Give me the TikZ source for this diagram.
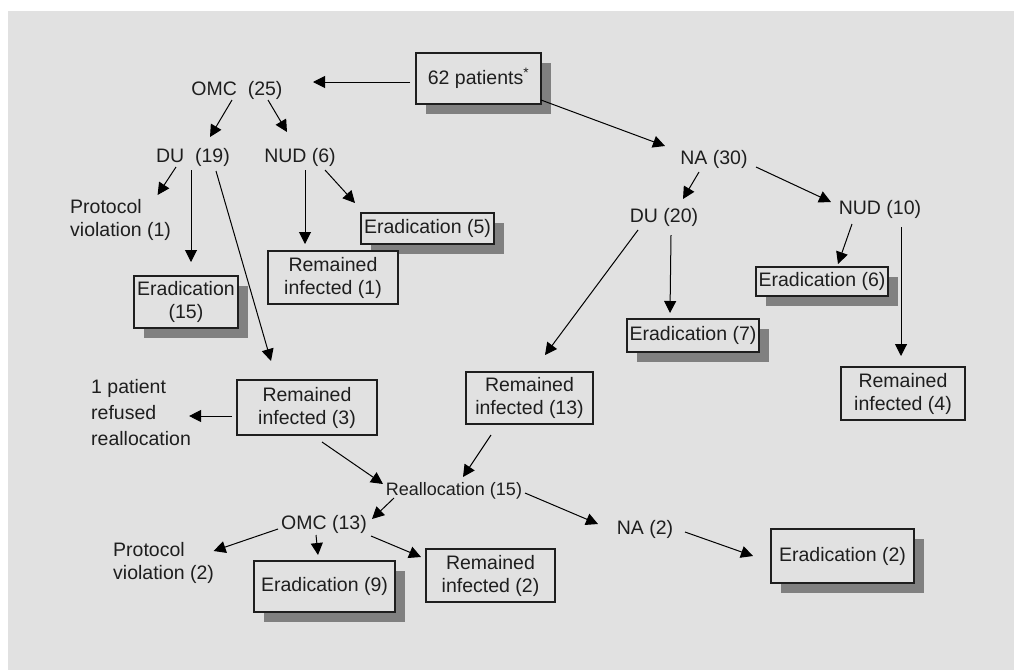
\documentclass[tikz,border=0pt]{standalone}
\usepackage{fontspec}
\setmainfont{Liberation Sans}
\usetikzlibrary{arrows.meta,shadows}
\definecolor{bg}{HTML}{E1E1E1}
\definecolor{shade}{HTML}{808080}
\definecolor{ink}{HTML}{1E1E1E}
\begin{document}
\begin{tikzpicture}[x=1pt,y=-1pt,
  font=\fontsize{19.5}{23}\selectfont, text=ink,
  box/.style={draw=ink, line width=1.1pt, fill=bg, inner sep=0pt, align=center},
  sbox/.style={box, drop shadow={shadow xshift=10pt, shadow yshift=-10pt, fill=shade, opacity=1}},
  lbl/.style={inner sep=0pt, align=center},
  lft/.style={inner sep=0pt, align=left, anchor=west},
  arr/.style={-{Triangle[length=12pt,width=12pt]}, line width=1pt, draw=black}]
\fill[white] (0,0) rectangle (1014,670);
\fill[bg] (8,11) rectangle (1014,670);
\useasboundingbox (0,0) rectangle (1014,670);

% nodes
\node[sbox, minimum width=125pt, minimum height=51pt] (p62) at (478.5,78.5) {62 patients\textsuperscript{*}};
\node[lbl] (omc25) at (237,90) {OMC\ \ (25)};
\node[lbl] (du19) at (193,157) {DU\ \ (19)};
\node[lbl] (nud6) at (300,157) {NUD (6)};
\node[lft] (pv1) at (70,219.5) {Protocol\\violation (1)};
\node[sbox, minimum width=104pt, minimum height=52pt] (e15) at (186,302) {Eradication\\(15)};
\node[sbox, minimum width=133pt, minimum height=31pt] (e5) at (427.5,228.5) {Eradication (5)};
\node[box, minimum width=130pt, minimum height=53pt] (r1) at (333,277.5) {Remained\\infected (1)};
\node[lbl] (na30) at (714,159) {NA (30)};
\node[lbl] (du20) at (664,217) {DU (20)};
\node[lbl] (nud10) at (880,209) {NUD (10)};
\node[sbox, minimum width=132pt, minimum height=29pt] (e6) at (822,281.5) {Eradication (6)};
\node[sbox, minimum width=132pt, minimum height=33pt] (e7) at (693,335.5) {Eradication (7)};
\node[box, minimum width=124pt, minimum height=53pt] (r4) at (903,393.5) {Remained\\infected (4)};
\node[box, minimum width=127pt, minimum height=52pt] (r13) at (529.5,398) {Remained\\infected (13)};
\node[box, minimum width=140pt, minimum height=55pt] (r3) at (307,407.5) {Remained\\infected (3)};
\node[lft, font=\fontsize{19.5}{26}\selectfont] (ref) at (91,413) {1 patient\\refused\\reallocation};
\node[lbl, font=\fontsize{18}{22}\selectfont] (realloc) at (454,491) {Reallocation (15)};
\node[lbl] (omc13) at (324,524) {OMC (13)};
\node[lft] (pv2) at (113,562.5) {Protocol\\violation (2)};
\node[sbox, minimum width=141pt, minimum height=51pt] (e9) at (324.5,586.5) {Eradication (9)};
\node[box, minimum width=129pt, minimum height=53pt] (r2) at (490.5,575.5) {Remained\\infected (2)};
\node[lbl] (na2) at (645,529) {NA (2)};
\node[sbox, minimum width=143pt, minimum height=54pt] (e2) at (842.5,556) {Eradication (2)};

% connectors
\draw[arr] ([shift={(-68.5,3.5)}]p62.center) -- ([shift={(76,-8)}]omc25.center);
\draw[arr] ([shift={(-5,10)}]omc25.center) -- ([shift={(17,-20)}]du19.center);
\draw[arr] ([shift={(31,10)}]omc25.center) -- ([shift={(-13,-25)}]nud6.center);
\draw[arr] ([shift={(-17,10)}]du19.center) -- ([shift={(37,-24.5)}]pv1.center);
\draw[arr] ([shift={(-2,13)}]du19.center) -- ([shift={(5,-40)}]e15.center);
\draw[arr] ([shift={(23,14)}]du19.center) -- ([shift={(-36,-46.5)}]r3.center);
\draw[arr] ([shift={(5,13)}]nud6.center) -- ([shift={(-28,-33.5)}]r1.center);
\draw[arr] ([shift={(25,13)}]nud6.center) -- ([shift={(-72.5,-25.5)}]e5.center);
\draw[arr] ([shift={(62.5,21.5)}]p62.center) -- ([shift={(-49,-13)}]na30.center);
\draw[arr] ([shift={(-15,13)}]na30.center) -- ([shift={(19,-18)}]du20.center);
\draw[arr] ([shift={(42,8)}]na30.center) -- ([shift={(-49,-7)}]nud10.center);
\draw[arr] ([shift={(-26,13)}]du20.center) -- ([shift={(15.5,-43)}]r13.center);
\draw[arr] ([shift={(7,18)}]du20.center) -- ([shift={(-23,-22.5)}]e7.center);
\draw[arr] ([shift={(-28,15)}]nud10.center) -- ([shift={(16,-17.5)}]e6.center);
\draw[arr] ([shift={(21,18)}]nud10.center) -- ([shift={(-2,-37.5)}]r4.center);
\draw[arr] ([shift={(-75,8.5)}]r3.center) -- ([shift={(48,3)}]ref.center);
\draw[arr] ([shift={(15,34.5)}]r3.center) -- ([shift={(-71,-7)}]realloc.center);
\draw[arr] ([shift={(-38.5,37)}]r13.center) -- ([shift={(9,-14)}]realloc.center);
\draw[arr] ([shift={(-60,7)}]realloc.center) -- ([shift={(48,-5)}]omc13.center);
\draw[arr] ([shift={(71,2)}]realloc.center) -- ([shift={(-47,-5)}]na2.center);
\draw[arr] ([shift={(40,3)}]na2.center) -- ([shift={(-89.5,0)}]e2.center);
\draw[arr] ([shift={(-46,5)}]omc13.center) -- ([shift={(50,-11.5)}]pv2.center);
\draw[arr] ([shift={(-8,11)}]omc13.center) -- ([shift={(-6.5,-31.5)}]e9.center);
\draw[arr] ([shift={(47,12)}]omc13.center) -- ([shift={(-69.5,-18.5)}]r2.center);
\end{tikzpicture}
\end{document}
